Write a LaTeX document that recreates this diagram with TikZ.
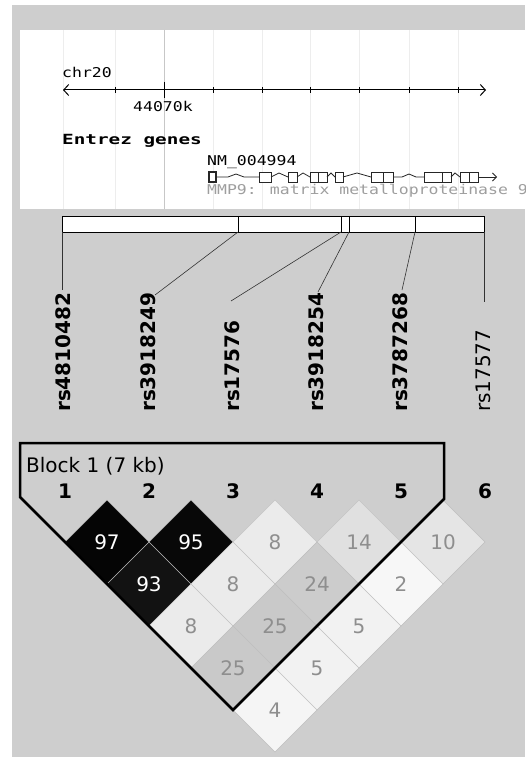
\documentclass[tikz,border=0pt]{standalone}
\usepackage{fontspec}
\setmainfont{DejaVu Sans}
\newfontfamily\gmono[FakeStretch=1.22,BoldFeatures={FakeStretch=1.38}]{DejaVu Sans Mono}
\usepackage{tikz}
\usetikzlibrary{arrows.meta}
\usetikzlibrary{shapes.geometric}
\definecolor{hvbg}{HTML}{CECECE}
\definecolor{hvgrid}{HTML}{EDEDED}
\definecolor{hvnum}{HTML}{8E8E8E}
\tikzset{ld/.style={diamond,minimum width=84pt,minimum height=84pt,inner sep=0pt,draw=black!25,line width=0.5pt,text=hvnum,font=\fontsize{20}{20}\selectfont}}
\tikzset{ldblack/.style={ld,text=white}}
\tikzset{snp/.style={rotate=90,anchor=base west,inner sep=0pt,font=\fontsize{20}{20}\selectfont\bfseries}}

\begin{document}
\begin{tikzpicture}[x=1pt,y=-1pt]
\tikzstyle{mono} = [inner sep=0pt,anchor=base west,font=\fontsize{13.5}{14}\gmono]
\tikzstyle{exon} = [draw=black!85,line width=0.9pt,fill=white]
\tikzstyle{intron} = [black!85,line width=0.8pt]
\useasboundingbox (0,0) rectangle (525,757);
\fill[hvbg] (12,5) rectangle (525,757);
\fill[white] (20,30) rectangle (526,209);
\draw[hvgrid] (63,30) -- (63,209);
\draw[hvgrid] (115,30) -- (115,209);
\draw[black!22] (164,30) -- (164,209);
\draw[hvgrid] (213,30) -- (213,209);
\draw[hvgrid] (262,30) -- (262,209);
\draw[hvgrid] (310,30) -- (310,209);
\draw[hvgrid] (359,30) -- (359,209);
\draw[hvgrid] (409,30) -- (409,209);
\draw[hvgrid] (458,30) -- (458,209);

\node[mono] (chr) at (62,78) {chr20};
\draw[line width=1pt,{Straight Barb[length=5pt,width=11pt]}-{Straight Barb[length=5pt,width=11pt]}] (63,90) -- (486,90);
\foreach \t in {115,213,262,310,359,409,458}
  \draw[line width=1pt] (\t,87) -- (\t,93);
\draw[line width=1pt] (164,82) -- (164,98);
\node[mono] (pos) at (133,112) {44070k};
\node[mono,font=\fontsize{14}{14}\gmono\bfseries] (entrez) at (62,144) {Entrez genes};
\node[mono] (nm) at (207,165) {NM\_004994};
\node[mono,text=black!38] (mmp) at (207,194) {MMP9: matrix metalloproteinase 9};

\draw[exon,line width=1.8pt] (209,172) rectangle (216,182);
\foreach \a/\b in {259/271,288/297,310/318,318/327,335/343,371/383,383/393,424/442,442/451,460/469,469/478}
  \draw[exon] (\a,172) rectangle (\b,182);
\draw[intron] (216,177) -- (228,177) -- (236,174) -- (244,177) -- (259,177);
\draw[intron] (271,177) -- (279,173) -- (288,177);
\draw[intron] (297,177) -- (303,173) -- (310,177);
\draw[intron] (327,177) -- (331,173) -- (335,177);
\draw[intron] (343,177) -- (357,173) -- (371,177);
\draw[intron] (393,177) -- (402,177) -- (409,174) -- (416,177) -- (424,177);
\draw[intron] (451,177) -- (455,173) -- (460,177);
\draw[intron,-{Straight Barb[length=4pt,width=8pt]}] (478,177) -- (497,177);

\fill[white] (62,217) rectangle (484,232);
\foreach \n/\x in {1/62,2/238,3/341,4/349,5/415,6/484} {
  \coordinate (t\n) at (\x,216);
  \coordinate (b\n) at (\x,232);
}
\draw[line width=0.8pt] (t1) rectangle (b6);
\draw[line width=0.8pt] (t2) -- (b2);
\draw[line width=0.8pt] (t3) -- (b3);
\draw[line width=0.8pt] (t4) -- (b4);
\draw[line width=0.8pt] (t5) -- (b5);

\coordinate (e1) at (62,290);
\coordinate (e2) at (155,295);
\coordinate (e3) at (231,301);
\coordinate (e4) at (318,292);
\coordinate (e5) at (402,290);
\coordinate (e6) at (484,302);
\draw[black!80,line width=0.6pt] (b1) -- (e1);
\draw[black!80,line width=0.6pt] (b2) -- (e2);
\draw[black!80,line width=0.6pt] (b3) -- (e3);
\draw[black!80,line width=0.6pt] (b4) -- (e4);
\draw[black!80,line width=0.6pt] (b5) -- (e5);
\draw[black!80,line width=0.6pt] (b6) -- (e6);

\node[snp] (rs1) at (70,412) {rs4810482};
\node[snp] (rs2) at (155,412) {rs3918249};
\node[snp] (rs3) at (239,412) {rs17576};
\node[snp] (rs4) at (323,412) {rs3918254};
\node[snp] (rs5) at (407,412) {rs3787268};
\node[snp,font=\fontsize{20}{20}\selectfont] (rs6) at (490,412) {rs17577};

\node[ldblack,fill=black!98] (d12) at (107,542) {97};
\node[ldblack,fill=black!97] (d23) at (191,542) {95};
\node[ld,fill=black!8] (d34) at (275,542) {8};
\node[ld,fill=black!12] (d45) at (359,542) {14};
\node[ld,fill=black!10] (d56) at (443,542) {10};
\node[ldblack,fill=black!93] (d13) at (149,584) {93};
\node[ld,fill=black!8] (d24) at (233,584) {8};
\node[ld,fill=black!20] (d35) at (317,584) {24};
\node[ld,fill=black!3] (d46) at (401,584) {2};
\node[ld,fill=black!8] (d14) at (191,626) {8};
\node[ld,fill=black!21] (d25) at (275,626) {25};
\node[ld,fill=black!5] (d36) at (359,626) {5};
\node[ld,fill=black!21] (d15) at (233,668) {25};
\node[ld,fill=black!5] (d26) at (317,668) {5};
\node[ld,fill=black!4] (d16) at (275,710) {4};

\draw[line width=2.5pt,line join=miter] (20,443) -- (444,443) -- (444,499) -- (233,710) -- (20,497) -- cycle;
\node[inner sep=0pt,anchor=base west,font=\fontsize{20}{20}\selectfont] (blk) at (26,472) {Block 1 (7 kb)};
\foreach \n/\x in {1/65,2/149,3/233,4/317,5/401,6/485}
  \node[inner sep=0pt,anchor=base,font=\fontsize{20}{20}\selectfont\bfseries] (c\n) at (\x,498) {\n};
\end{tikzpicture}
\end{document}
